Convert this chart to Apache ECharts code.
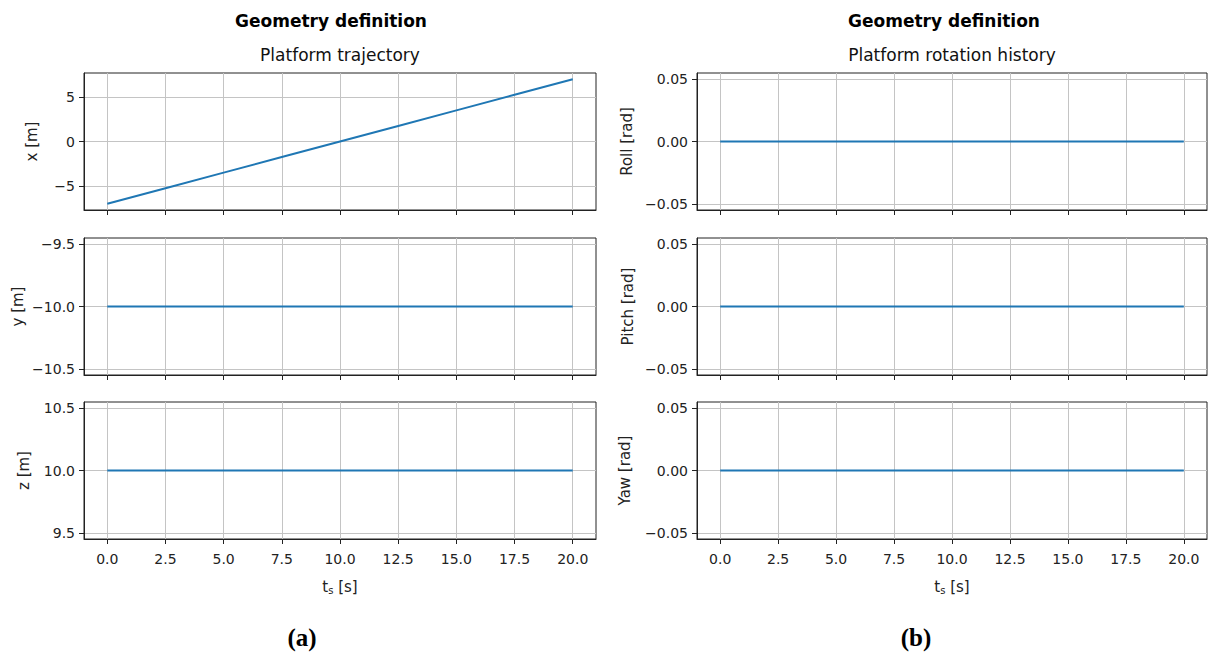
<!DOCTYPE html>
<html>
<head>
<meta charset="utf-8">
<title>Geometry definition</title>
<script src="https://cdn.jsdelivr.net/npm/echarts@6/dist/echarts.min.js"></script>
<style>
  html, body { margin: 0; padding: 0; background: #fff; }
  #chart { width: 1208px; height: 655px; }
</style>
</head>
<body>
<div id="chart"></div>
<script>
// Sample times [s]
const timeS = [0, 2.5, 5, 7.5, 10, 12.5, 15, 17.5, 20];
// Platform trajectory [m]
const posX = [-7, -5.25, -3.5, -1.75, 0, 1.75, 3.5, 5.25, 7];
const posY = [-10, -10, -10, -10, -10, -10, -10, -10, -10];
const posZ = [10, 10, 10, 10, 10, 10, 10, 10, 10];
// Platform rotation history [rad]
const roll = [0, 0, 0, 0, 0, 0, 0, 0, 0];
const pitch = [0, 0, 0, 0, 0, 0, 0, 0, 0];
const yaw = [0, 0, 0, 0, 0, 0, 0, 0, 0];

// Tick positions / labels
const timeTicks = [0, 2.5, 5, 7.5, 10, 12.5, 15, 17.5, 20];
const xTicks = [-5, 0, 5];
const yTicks = [-10.5, -10.0, -9.5];
const zTicks = [9.5, 10.0, 10.5];
const angleTicks = [-0.05, 0.0, 0.05];

const FONT = 'DejaVu Sans';
const LINE_COLOR = '#1f77b4';
const fmtMinus = s => s.replace('-', '\u2212');

const panels = [
  { left: 84, width: 512 },
  { left: 697, width: 510 }
];
const rowTops = [73, 238, 402];
const rowHeight = 137;

const rows = [
  // left column
  { col: 0, row: 0, name: 'x [m]', gap: 45, vals: posX, min: -7.7, max: 7.7, ticks: xTicks, dec: 0 },
  { col: 0, row: 1, name: 'y [m]', gap: 59, vals: posY, min: -10.55, max: -9.45, ticks: yTicks, dec: 1 },
  { col: 0, row: 2, name: 'z [m]', gap: 53, vals: posZ, min: 9.45, max: 10.55, ticks: zTicks, dec: 1 },
  // right column
  { col: 1, row: 0, name: 'Roll [rad]', gap: 63, vals: roll, min: -0.055, max: 0.055, ticks: angleTicks, dec: 2 },
  { col: 1, row: 1, name: 'Pitch [rad]', gap: 62, vals: pitch, min: -0.055, max: 0.055, ticks: angleTicks, dec: 2 },
  { col: 1, row: 2, name: 'Yaw [rad]', gap: 65, vals: yaw, min: -0.055, max: 0.055, ticks: angleTicks, dec: 2 }
];

const grid = [], xAxis = [], yAxis = [], series = [];
const axisLineStyle = { color: '#222', width: 1 };
const splitStyle = { color: '#c4c4c4', width: 1 };

rows.forEach((r, i) => {
  grid.push({
    left: panels[r.col].left, width: panels[r.col].width,
    top: rowTops[r.row], height: rowHeight,
    show: true, borderColor: '#222', borderWidth: 1, backgroundColor: '#fff'
  });
  const isBottom = r.row === 2;
  xAxis.push({
    type: 'value', gridIndex: i, min: -1, max: 21,
    axisLine: { show: true, onZero: false, lineStyle: axisLineStyle },
    axisTick: { show: true, length: 5, lineStyle: { color: '#222' }, customValues: timeTicks },
    axisLabel: {
      show: isBottom, customValues: timeTicks, margin: 13,
      fontFamily: FONT, fontSize: 14, color: '#222',
      formatter: v => v.toFixed(1)
    },
    splitLine: { show: true, lineStyle: splitStyle },
    name: isBottom ? '{t|t}{s|s} [s]' : '',
    nameLocation: 'middle', nameGap: 39,
    nameTextStyle: {
      fontFamily: FONT, fontSize: 15, color: '#222',
      rich: {
        t: { fontFamily: FONT, fontSize: 15, color: '#222' },
        s: { fontFamily: FONT, fontSize: 10, color: '#222', verticalAlign: 'bottom', padding: [7, 0, 0, 0] }
      }
    }
  });
  yAxis.push({
    type: 'value', gridIndex: i, min: r.min, max: r.max,
    axisLine: { show: true, onZero: false, lineStyle: axisLineStyle },
    axisTick: { show: true, length: 5, lineStyle: { color: '#222' }, customValues: r.ticks },
    axisLabel: {
      customValues: r.ticks, margin: 9,
      fontFamily: FONT, fontSize: 14, color: '#222',
      formatter: v => fmtMinus(v.toFixed(r.dec))
    },
    splitLine: { show: true, lineStyle: splitStyle },
    name: r.name, nameLocation: 'middle', nameRotate: 90, nameGap: r.gap,
    nameTextStyle: { fontFamily: FONT, fontSize: 15, color: '#222' }
  });
  series.push({
    type: 'line', xAxisIndex: i, yAxisIndex: i,
    data: timeS.map((t, k) => [t, r.vals[k]]),
    showSymbol: false, silent: true,
    lineStyle: { color: LINE_COLOR, width: 2 },
    itemStyle: { color: LINE_COLOR }
  });
});

const text = (x, y, str, style) => ({
  type: 'text', x, y,
  style: Object.assign({ text: str, align: 'center', verticalAlign: 'middle', fill: '#000' }, style)
});

const graphic = [
  text(331, 21, 'Geometry definition', { font: 'bold 17px "DejaVu Sans"' }),
  text(944, 21, 'Geometry definition', { font: 'bold 17px "DejaVu Sans"' }),
  text(340, 55, 'Platform trajectory', { font: '17px "DejaVu Sans"', fill: '#111' }),
  text(952, 55, 'Platform rotation history', { font: '17px "DejaVu Sans"', fill: '#111' }),
  text(302, 637, '(a)', { font: 'bold 25px "Liberation Serif"' }),
  text(916, 637, '(b)', { font: 'bold 25px "Liberation Serif"' })
];

const chart = echarts.init(document.getElementById('chart'), null, { renderer: 'svg' });
chart.setOption({
  animation: false,
  backgroundColor: '#fff',
  grid, xAxis, yAxis, series, graphic
});
</script>
</body>
</html>
